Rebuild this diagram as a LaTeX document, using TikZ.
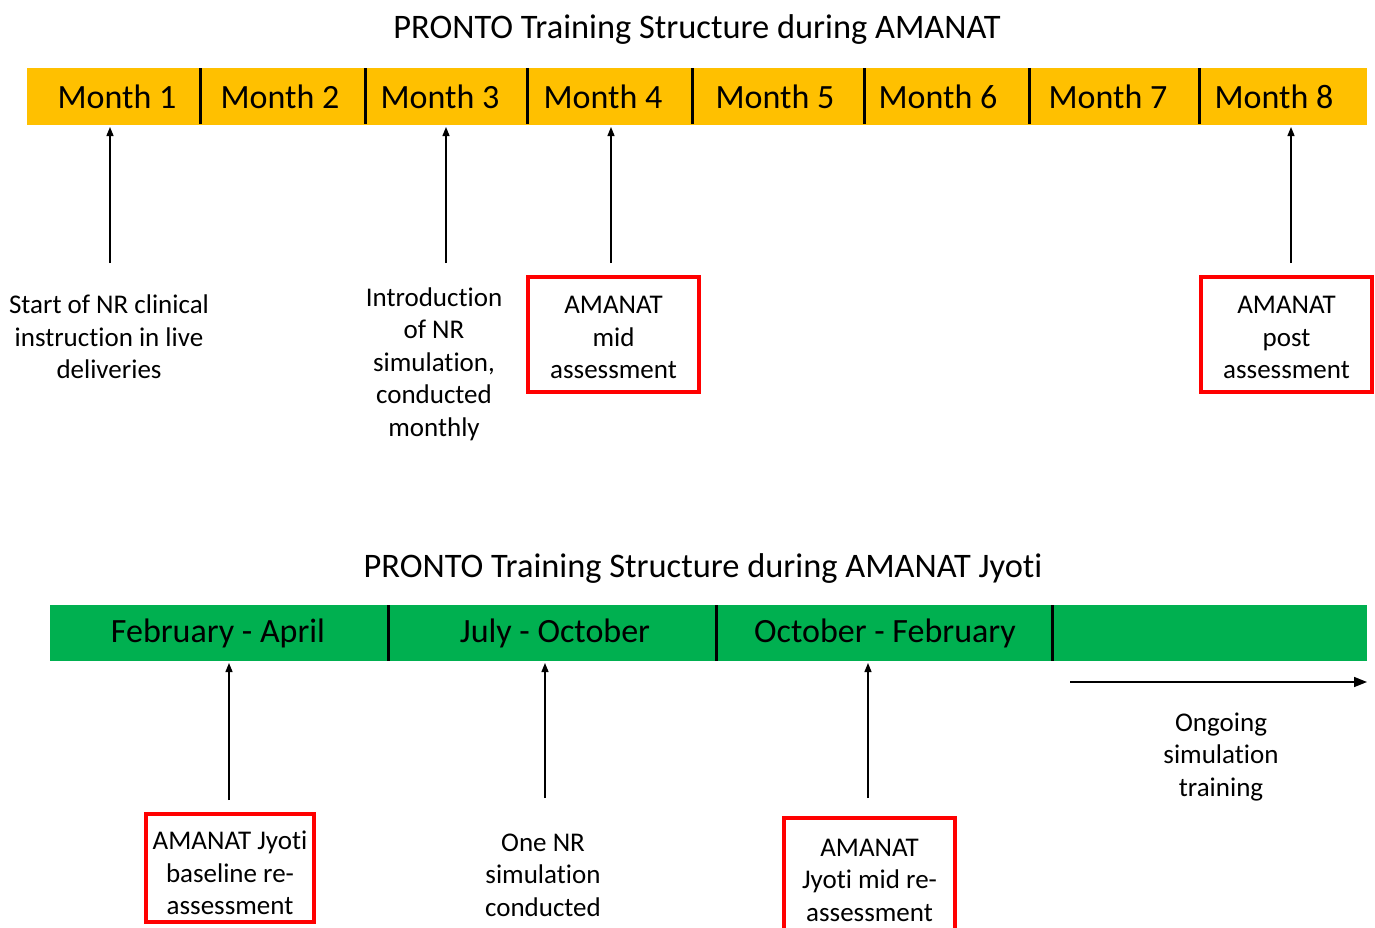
\documentclass[tikz,border=0pt]{standalone}
\usepackage{fontspec}
\setmainfont{Carlito}[Ligatures={NoCommon}]
\usetikzlibrary{arrows.meta}
\definecolor{barY}{HTML}{FFC000}
\definecolor{barG}{HTML}{00B050}
\definecolor{boxR}{HTML}{FF0000}
\begin{document}
\begin{tikzpicture}[x=1pt,y=-1pt,
  title/.style={font=\fontsize{34.4}{40}\selectfont},
  seglabel/.style={font=\fontsize{34}{40}\selectfont},
  lbl/.style={font=\fontsize{27}{32.5}\selectfont, align=center, inner sep=0pt},
  redbox/.style={draw=boxR, line width=4.2pt, inner sep=0pt},
  sep/.style={line width=3pt, black},
  arr/.style={line width=1.3pt, -{Triangle[length=9pt,width=7pt]}},
  bigarr/.style={line width=1.6pt, -{Triangle[length=13pt,width=10pt]}}]
\useasboundingbox (0,0) rectangle (1375,927);
\clip (0,0) rectangle (1375,927);

% ---------- Top part ----------
\node[title] (t1) at (697,30) {PRONTO Training Structure during AMANAT};
\fill[barY] (27,68) rectangle (1367,125);
\foreach \x in {200,365,527,692,864,1029,1199} \draw[sep] (\x,68) -- (\x,124);
\node[seglabel] (m1) at (117,97) {Month 1};
\node[seglabel] (m2) at (280,97) {Month 2};
\node[seglabel] (m3) at (440,97) {Month 3};
\node[seglabel] (m4) at (603,97) {Month 4};
\node[seglabel] (m5) at (775,97) {Month 5};
\node[seglabel] (m6) at (938,97) {Month 6};
\node[seglabel] (m7) at (1108,97) {Month 7};
\node[seglabel] (m8) at (1274,97) {Month 8};

\coordinate (a1s) at (110,263); \coordinate (a1e) at (110,127);
\coordinate (a3s) at (446,263); \coordinate (a3e) at (446,127);
\coordinate (a4s) at (611,263); \coordinate (a4e) at (611,127);
\coordinate (a8s) at (1291,263); \coordinate (a8e) at (1291,127);
\draw[arr] (a1s) -- (a1e);
\draw[arr] (a3s) -- (a3e);
\draw[arr] (a4s) -- (a4e);
\draw[arr] (a8s) -- (a8e);

\node[lbl] (l1) at (109,337) {Start of NR clinical\\instruction in live\\deliveries};
\node[lbl] (l3) at (434,364) {Introduction\\of NR\\simulation,\\conducted\\monthly};
\node[redbox, minimum width=171pt, minimum height=115pt,
  label={[lbl,yshift=-3pt]center:{AMANAT\\mid\\assessment}}] (b4) at (613.5,334.5) {};
\node[redbox, minimum width=171pt, minimum height=115pt,
  label={[lbl,yshift=-3pt]center:{AMANAT\\post\\assessment}}] (b8) at (1286.5,334.5) {};

% ---------- Bottom part ----------
\node[title] (t2) at (703,569) {PRONTO Training Structure during AMANAT Jyoti};
\fill[barG] (50,605) rectangle (1367,661);
\foreach \x in {388,716,1052} \draw[sep] (\x,605) -- (\x,661);
\node[seglabel] (g1) at (218,633) {February - April};
\node[seglabel] (g2) at (555,633) {July - October};
\node[seglabel] (g3) at (885,633) {October - February};

\coordinate (c1s) at (229,800); \coordinate (c1e) at (229,663);
\coordinate (c2s) at (545,798); \coordinate (c2e) at (545,663);
\coordinate (c3s) at (868,798); \coordinate (c3e) at (868,663);
\coordinate (hs) at (1070,682); \coordinate (he) at (1367,682);
\draw[arr] (c1s) -- (c1e);
\draw[arr] (c2s) -- (c2e);
\draw[arr] (c3s) -- (c3e);
\draw[bigarr] (hs) -- (he);

\node[lbl] (og) at (1221,757) {Ongoing\\simulation\\training};
\node[redbox, minimum width=168pt, minimum height=108pt,
  label={[lbl,yshift=-5pt]center:{AMANAT Jyoti\\baseline re-\\assessment}}] (b5) at (230,868) {};
\node[lbl] (on) at (543,875) {One NR\\simulation\\conducted};
\node[redbox, minimum width=171pt, minimum height=122pt,
  label={[lbl,yshift=-1pt]center:{AMANAT\\Jyoti mid re-\\assessment}}] (b6) at (869.5,879) {};
\end{tikzpicture}
\end{document}
